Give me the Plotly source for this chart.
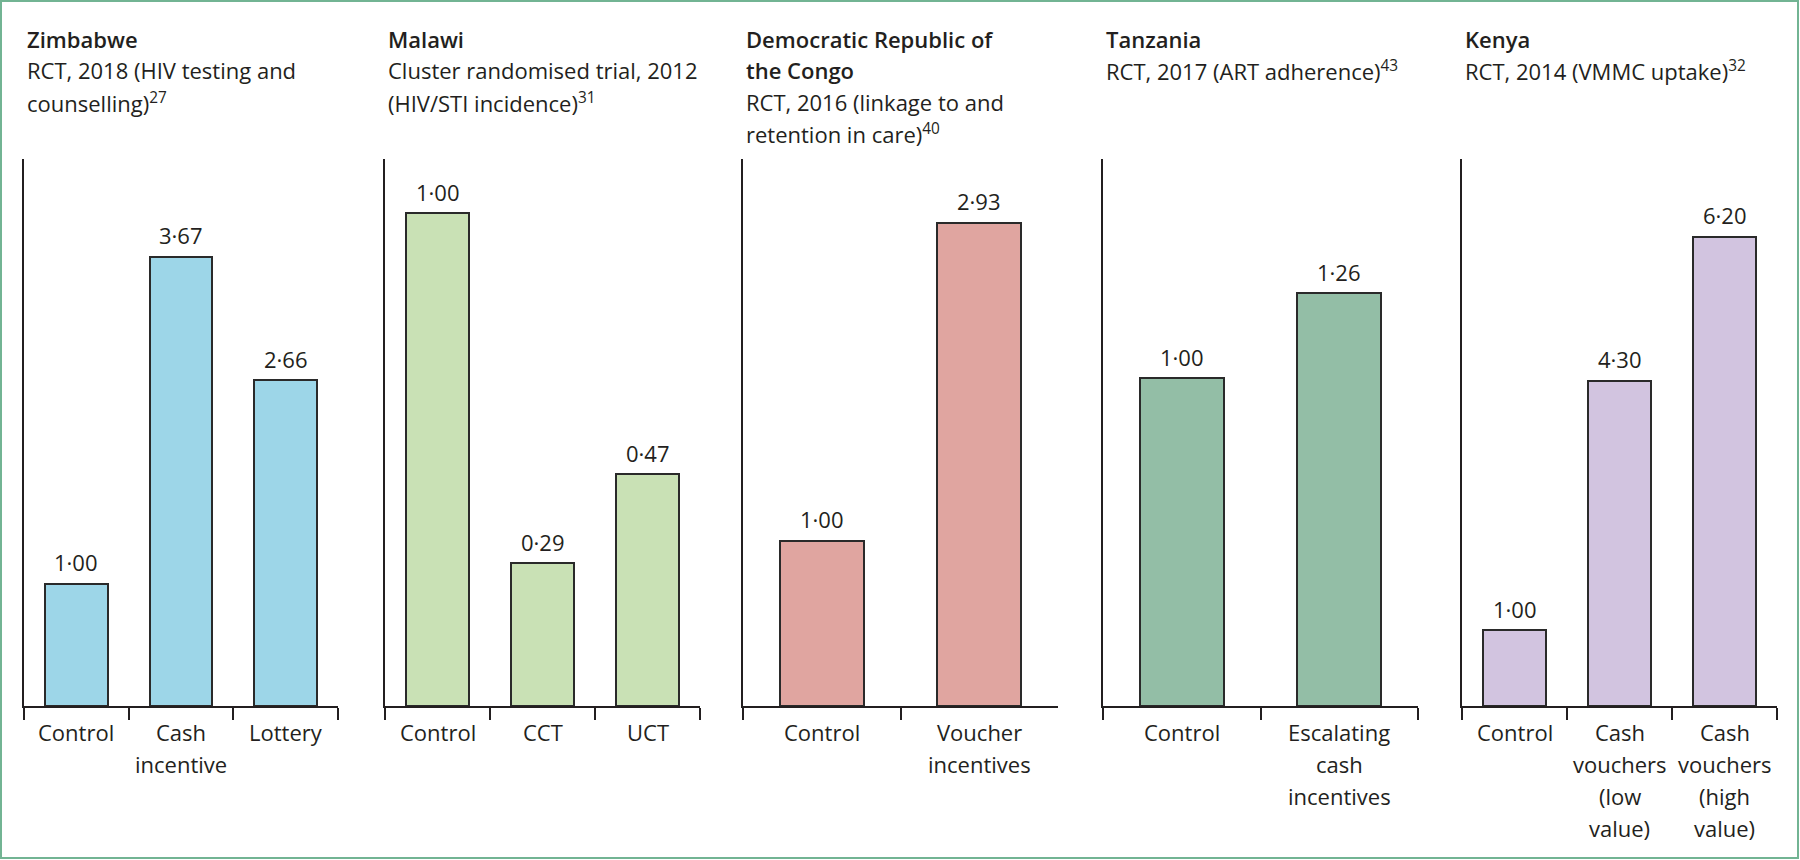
import plotly.graph_objects as go

# ---------------- data ----------------
titles = [
    ["Zimbabwe"],
    ["Malawi"],
    ["Democratic Republic of", "the Congo"],
    ["Tanzania"],
    ["Kenya"],
]
subtitles = [
    ["RCT, 2018 (HIV testing and", "counselling)<sup>27</sup>"],
    ["Cluster randomised trial, 2012", "(HIV/STI incidence)<sup>31</sup>"],
    ["RCT, 2016 (linkage to and", "retention in care)<sup>40</sup>"],
    ["RCT, 2017 (ART adherence)<sup>43</sup>"],
    ["RCT, 2014 (VMMC uptake)<sup>32</sup>"],
]
zimbabwe_cats = ["Control", "Cash<br>incentive", "Lottery"]
zimbabwe_vals = [1.00, 3.67, 2.66]
malawi_cats = ["Control", "CCT", "UCT"]
malawi_vals = [1.00, 0.29, 0.47]
drc_cats = ["Control", "Voucher<br>incentives"]
drc_vals = [1.00, 2.93]
tanzania_cats = ["Control", "Escalating<br>cash<br>incentives"]
tanzania_vals = [1.00, 1.26]
kenya_cats = ["Control", "Cash<br>vouchers<br>(low<br>value)", "Cash<br>vouchers<br>(high<br>value)"]
kenya_vals = [1.00, 4.30, 6.20]

panel_cats = [zimbabwe_cats, malawi_cats, drc_cats, tanzania_cats, kenya_cats]
panel_vals = [zimbabwe_vals, malawi_vals, drc_vals, tanzania_vals, kenya_vals]

# ---------------- style / layout ----------------
colors = ["#9dd6e8", "#c9e1b5", "#e0a5a0", "#93bea6", "#d2c4e0"]
ymax = [4.47, 1.11, 3.315, 1.67, 7.23]
W, H = 1800, 860
x_px = [(24, 338), (385, 700), (743, 1058), (1103, 1418), (1462, 1777)]
y_top_px, y_base_px = 159, 706
FONT = "Open Sans"
TXT = "#231f20"
FS = 22
MID = 8.5  # offset from text baseline to annotation middle

fig = go.Figure()

for i in range(5):
    cats = panel_cats[i]
    vals = panel_vals[i]
    n = len(cats)
    ax = "" if i == 0 else str(i + 1)
    bw = 0.6 if n == 3 else 0.535
    fig.add_trace(go.Bar(
        x=cats, y=vals,
        xaxis="x" + ax, yaxis="y" + ax,
        width=bw,
        marker=dict(color=colors[i], line=dict(color="#2a2a2a", width=2)),
        hoverinfo="skip",
    ))
    x0, x1 = x_px[i]
    fig.layout["xaxis" + ax] = dict(
        domain=[x0 / W, x1 / W], anchor="y" + ax,
        type="category", range=[-0.5, n - 0.5],
        showline=True, linewidth=2, linecolor=TXT,
        ticks="outside", tickson="boundaries", ticklen=12, tickwidth=2, tickcolor=TXT,
        showticklabels=False,
        showgrid=False, zeroline=False, fixedrange=True,
    )
    fig.layout["yaxis" + ax] = dict(
        domain=[1 - y_base_px / H, 1 - y_top_px / H], anchor="x" + ax,
        range=[0, ymax[i]],
        showline=True, linewidth=2, linecolor=TXT,
        showticklabels=False, ticks="", showgrid=False, zeroline=False, fixedrange=True,
    )

    # value labels above bars
    for c, v in zip(cats, vals):
        fig.add_annotation(
            text=f"{v:.2f}".replace(".", "\u00b7"),
            xref="x" + ax, yref="y" + ax, x=c, y=v,
            yshift=13 + MID, xanchor="center", yanchor="middle", showarrow=False,
            font=dict(family=FONT, size=FS, color=TXT),
        )
        # category labels, one line each, under the axis
        for k, part in enumerate(c.split("<br>")):
            baseline = 740 + 32 * k
            fig.add_annotation(
                text=part, xref="x" + ax, yref="paper", x=c,
                y=1 - (baseline - MID) / H,
                xanchor="center", yanchor="middle", showarrow=False,
                font=dict(family=FONT, size=FS, color=TXT),
            )

    # title lines (semi-bold) & subtitle lines
    lines = [(t, 600) for t in titles[i]] + [(s, 400) for s in subtitles[i]]
    for k, (line, wt) in enumerate(lines):
        baseline = 47.5 + 31.5 * k
        fig.add_annotation(
            text=line, xref="paper", yref="paper",
            x=(x0 + 1) / W, y=1 - (baseline - MID) / H,
            xanchor="left", yanchor="middle", showarrow=False,
            font=dict(family=FONT, size=FS, color=TXT, weight=wt),
        )

# border
fig.add_shape(type="rect", xref="paper", yref="paper",
              x0=1 / W, x1=1 - 2 / W, y0=2 / H, y1=1 - 1 / H,
              line=dict(color="#72b493", width=2), fillcolor="rgba(0,0,0,0)")

fig.update_layout(
    width=W, height=H,
    margin=dict(l=0, r=0, t=0, b=0),
    paper_bgcolor="white", plot_bgcolor="white",
    showlegend=False, bargap=0,
    font=dict(family=FONT, size=FS, color=TXT),
)

fig.write_html(
    "out.html",
    config={"displayModeBar": False},
    post_script="document.body.style.margin='0';document.body.style.overflow='hidden';",
)
